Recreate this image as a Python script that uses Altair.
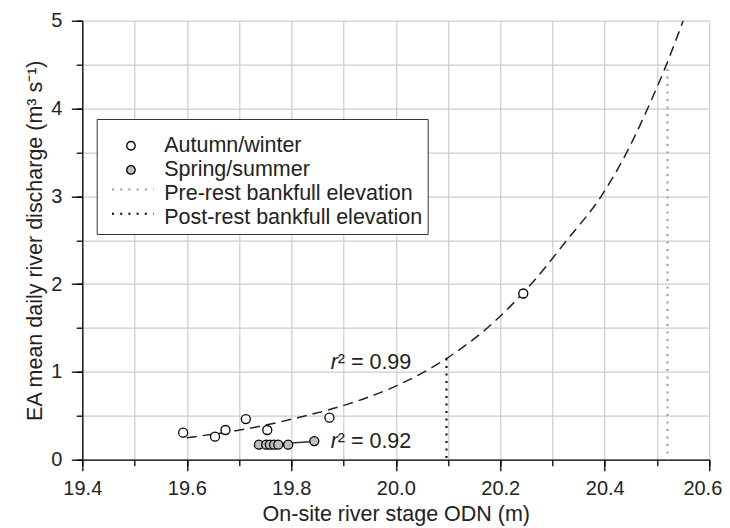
import altair as alt
import pandas as pd

# ---------------- data ----------------
series = ["Autumn/winter", "Spring/summer",
          "Pre-rest bankfull elevation", "Post-rest bankfull elevation"]
pt_fill = ["#ffffff", "#bfbfbf", "transparent", "transparent"]
pt_stroke = ["#000000", "#000000", "transparent", "transparent"]

autumn_x = [19.593, 19.654, 19.674, 19.713, 19.754, 19.873, 20.244]
autumn_y = [0.308, 0.262, 0.338, 0.463, 0.338, 0.479, 1.893]

spring_x = [19.738, 19.752, 19.759, 19.767, 19.775, 19.794, 19.844]
spring_y = [0.171, 0.171, 0.171, 0.171, 0.171, 0.171, 0.212]

# fitted curves
fit_aw_x = [19.600, 19.714, 19.818, 19.901, 20.003, 20.097, 20.181, 20.260,
            20.3275, 20.393, 20.442, 20.482, 20.518, 20.550]
fit_aw_y = [0.251, 0.350, 0.486, 0.619, 0.847, 1.152, 1.531, 2.007,
            2.500, 3.000, 3.500, 4.000, 4.500, 5.000]
fit_ss_x = [19.738, 19.844]
fit_ss_y = [0.168, 0.208]

bank_labels = ["Pre-rest bankfull elevation", "Post-rest bankfull elevation"]
bank_colors = ["#9a9a9a", "#000000"]
bank_x = [20.52, 20.097]
bank_top = [4.45, 1.152]

r2_text = ["\u00b2 = 0.99", "\u00b2 = 0.92"]
r2_x = [19.889, 19.889]
r2_y = [1.106, 0.201]

x_ticks = [19.4, 19.5, 19.6, 19.7, 19.8, 19.9, 20.0, 20.1, 20.2, 20.3, 20.4, 20.5, 20.6]
x_major = [19.4, 19.6, 19.8, 20.0, 20.2, 20.4]
x_last = [20.6]
y_ticks = [0, 0.5, 1, 1.5, 2, 2.5, 3, 3.5, 4, 4.5, 5]
y_major = [0, 1, 2, 3, 4, 5]

# ---------------- tables ----------------
df_pts = pd.concat([
    pd.DataFrame({"x": autumn_x, "y": autumn_y, "series": series[0]}),
    pd.DataFrame({"x": spring_x, "y": spring_y, "series": series[1]}),
], ignore_index=True)
df_fit_aw = pd.DataFrame({"x": fit_aw_x, "y": fit_aw_y})
df_fit_ss = pd.DataFrame({"x": fit_ss_x, "y": fit_ss_y})
df_bank = pd.DataFrame({"x": bank_x, "top": bank_top, "line": bank_labels})
df_r2 = pd.DataFrame({"x": r2_x, "y": r2_y, "t": r2_text})

FONT = "Liberation Sans"
TXT = "#222222"
FS = 21.5

xscale = alt.Scale(domain=[19.4, 20.6], nice=False, zero=False)
yscale = alt.Scale(domain=[0, 5], nice=False)

# minor axes: grid + short ticks + domain line
x_minor = alt.Axis(values=x_ticks, orient="bottom", grid=True, labels=False, title=None,
                   tickSize=6, domain=True, zindex=0)
y_minor = alt.Axis(values=y_ticks, orient="left", grid=True, labels=False, title=None,
                   tickSize=6, domain=True, zindex=0, minExtent=33, maxExtent=33)
# major axes: long ticks + labels + titles
x_maj = alt.Axis(values=x_major, orient="bottom", grid=False, format=".1f",
                 title="On-site river stage ODN (m)", tickSize=11, domain=False,
                 labelPadding=8, titlePadding=5, labelFlush=False, labelOverlap=False, zindex=1)
x_end = alt.Axis(values=x_last, orient="bottom", grid=False, format=".1f", title=None,
                 tickSize=11, domain=False, labelPadding=8, labelFlush=True,
                 labelFlushOffset=12.5, labelOverlap=False, zindex=1)
y_maj = alt.Axis(values=y_major, orient="left", grid=False, format="d",
                 title="EA mean daily river discharge (m\u00b3 s\u207b\u00b9)", tickSize=11,
                 domain=False, labelPadding=9.5, titlePadding=3, labelFlush=False,
                 labelOverlap=False, minExtent=33, maxExtent=33, zindex=1)

# legend A: the box, all four labels and the two circle symbols
legend_a = alt.Legend(
    orient="none", legendX=14.4, legendY=98.3, zindex=1,
    title=" ", titleFontSize=4, titlePadding=7,
    padding=5, strokeColor="#333333", fillColor="#ffffff",
    labelFont=FONT, labelFontSize=FS, labelColor=TXT, labelLimit=500,
    symbolType="circle", symbolSize=72, symbolStrokeWidth=1.3,
    symbolOffset=18.5, labelOffset=22.5, rowPadding=1.2,
)
# legend B: only the two dotted-line symbols, laid over rows 3-4 of legend A
legend_b = alt.Legend(
    orient="none", legendX=30, legendY=158.1, zindex=2,
    title=None, padding=0,
    labelFont=FONT, labelFontSize=FS, labelExpr="''", labelLimit=500,
    symbolType="M-4.9,0H4.9", symbolSize=72, symbolStrokeWidth=2,
    symbolDash=[2, 6.2], symbolOffset=9.75, labelOffset=22.5, rowPadding=1.2,
)

Xn = alt.X("x:Q", scale=xscale, axis=None)
Yn = alt.Y("y:Q", scale=yscale, axis=None)

rules = alt.Chart(df_bank).mark_rule(strokeDash=[2, 5.5], strokeWidth=2).encode(
    x=alt.X("x:Q", scale=xscale, axis=x_minor),
    y=alt.Y("top:Q", scale=yscale, axis=y_minor),
    y2=alt.datum(0),
    color=alt.Color("line:N", scale=alt.Scale(domain=bank_labels, range=bank_colors),
                    legend=legend_b),
)

curve = alt.Chart(df_fit_aw).mark_line(
    strokeDash=[10, 6], color="#222222", strokeWidth=1.5, interpolate="monotone", clip=True
).encode(x=alt.X("x:Q", scale=xscale, axis=x_maj), y=alt.Y("y:Q", scale=yscale, axis=y_maj))

sline = alt.Chart(df_fit_ss).mark_line(color="#333333", strokeWidth=1.5).encode(
    x=alt.X("x:Q", scale=xscale, axis=x_end), y=Yn)

pts = alt.Chart(df_pts).mark_point(
    shape="circle", filled=True, opacity=1, strokeWidth=1.3, size=81
).encode(
    x=Xn, y=Yn,
    fill=alt.Fill("series:N", scale=alt.Scale(domain=series, range=pt_fill), legend=legend_a),
    stroke=alt.Stroke("series:N", scale=alt.Scale(domain=series, range=pt_stroke), legend=legend_a),
)

r_txt = alt.Chart(df_r2).mark_text(
    text="r", fontStyle="italic", align="right", baseline="middle",
    fontSize=FS, font=FONT, color=TXT
).encode(x=Xn, y=Yn)

r2_txt = alt.Chart(df_r2).mark_text(
    align="left", baseline="middle", fontSize=FS, font=FONT, color=TXT
).encode(x=Xn, y=Yn, text="t:N")

chart = alt.layer(rules, curve, sline, pts, r_txt, r2_txt).resolve_axis(
    x="independent", y="independent"
).properties(
    width=627, height=439,
    autosize=alt.AutoSizeParams(type="none"),
    padding={"left": 74.3, "top": 12.7, "right": 12.7, "bottom": 70},
).configure(font=FONT).configure_axis(
    labelFont=FONT, labelFontSize=20, labelColor=TXT,
    titleFont=FONT, titleFontSize=FS, titleColor=TXT, titleFontWeight="normal",
    gridColor="#cccccc", gridWidth=1.2,
    domainColor="#000000", domainWidth=1.3,
    tickColor="#000000", tickWidth=1.3,
).configure_view(strokeWidth=0)

chart.save("out.html", embed_options={"renderer": "svg", "actions": False})
